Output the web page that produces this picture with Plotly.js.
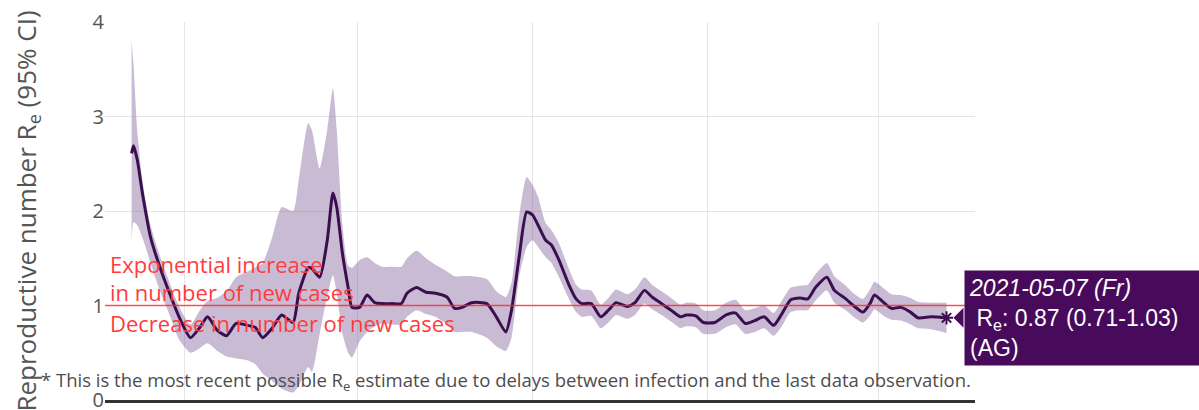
<!DOCTYPE html>
<html>
<head>
<meta charset="utf-8">
<script src="https://cdn.plot.ly/plotly-3.0.1.min.js"></script>
<style>html,body{margin:0;padding:0;background:#fff}#chart{width:1199px;height:410px}</style>
</head>
<body>
<div id="chart"></div>
<script>
// Daily Re estimate (AG)
const dates = [
  '2020-03-04','2020-03-05','2020-03-07','2020-03-10','2020-03-14','2020-03-19','2020-03-24','2020-03-29',
  '2020-04-04','2020-04-09','2020-04-13','2020-04-18','2020-04-23','2020-04-28','2020-05-04','2020-05-08',
  '2020-05-12','2020-05-17','2020-05-22','2020-05-28','2020-05-31','2020-06-05','2020-06-07','2020-06-11',
  '2020-06-15','2020-06-18','2020-06-20','2020-06-23','2020-06-26','2020-06-28','2020-07-02','2020-07-06',
  '2020-07-10','2020-07-14','2020-07-19','2020-07-24','2020-07-27','2020-08-01','2020-08-06','2020-08-11',
  '2020-08-17','2020-08-21','2020-08-25','2020-08-30','2020-09-07','2020-09-12','2020-09-17','2020-09-20',
  '2020-09-24','2020-09-28','2020-10-01','2020-10-04','2020-10-08','2020-10-11','2020-10-15','2020-10-20',
  '2020-10-24','2020-10-27','2020-11-01','2020-11-06','2020-11-10','2020-11-14','2020-11-20','2020-11-24',
  '2020-11-29','2020-12-03','2020-12-08','2020-12-13','2020-12-18','2020-12-21','2020-12-26','2020-12-30',
  '2021-01-05','2021-01-11','2021-01-16','2021-01-21','2021-01-26','2021-01-31','2021-02-05','2021-02-09',
  '2021-02-14','2021-02-19','2021-02-23','2021-02-27','2021-03-05','2021-03-09','2021-03-15','2021-03-19',
  '2021-03-24','2021-03-28','2021-03-30','2021-04-04','2021-04-08','2021-04-13','2021-04-18','2021-04-22',
  '2021-04-29','2021-05-07'
];
const re = [
  2.61,2.69,2.54,2.15,1.72,1.40,1.13,0.88,
  0.66,0.77,0.88,0.74,0.68,0.81,0.79,0.77,
  0.66,0.76,0.90,0.82,1.13,1.40,1.39,1.30,
  1.69,2.19,2.04,1.55,1.19,0.98,0.98,1.11,
  1.03,1.02,1.02,1.02,1.13,1.19,1.14,1.13,
  1.09,0.97,0.98,1.03,1.02,0.88,0.72,0.95,
  1.51,1.99,1.96,1.85,1.69,1.64,1.48,1.23,
  1.07,1.02,1.02,0.88,0.95,1.03,0.99,1.03,
  1.16,1.09,1.02,0.95,0.88,0.90,0.89,0.82,
  0.82,0.90,0.92,0.81,0.84,0.88,0.79,0.90,
  1.06,1.08,1.07,1.19,1.30,1.16,1.07,1.00,
  0.93,1.03,1.11,1.03,0.97,0.98,0.93,0.87,
  0.88,0.87
];
const lo = [
  1.66,1.88,1.85,1.70,1.45,1.15,0.90,0.64,
  0.50,0.55,0.60,0.52,0.46,0.44,0.42,0.38,
  0.28,0.20,0.12,0.08,0.15,0.35,0.30,0.70,
  1.10,1.32,1.13,0.70,0.50,0.45,0.62,0.72,
  0.78,0.81,0.80,0.80,0.88,0.95,0.91,0.88,
  0.80,0.72,0.72,0.72,0.66,0.57,0.52,0.66,
  1.30,1.62,1.69,1.62,1.51,1.45,1.30,1.08,
  0.93,0.88,0.89,0.76,0.82,0.90,0.86,0.90,
  1.02,0.96,0.90,0.83,0.76,0.78,0.77,0.70,
  0.70,0.77,0.80,0.70,0.72,0.76,0.68,0.77,
  0.93,0.95,0.95,1.05,1.16,1.03,0.95,0.88,
  0.82,0.90,0.96,0.89,0.85,0.84,0.80,0.76,
  0.75,0.71
];
const hi = [
  3.81,3.55,2.85,2.28,1.85,1.52,1.24,0.99,
  0.80,0.95,1.05,1.08,1.15,1.30,1.36,1.40,
  1.45,1.72,2.04,2.00,2.33,2.93,2.85,2.45,
  2.86,3.30,2.86,1.85,1.42,1.40,1.48,1.51,
  1.45,1.41,1.41,1.41,1.50,1.58,1.50,1.43,
  1.36,1.31,1.31,1.31,1.28,1.15,1.09,1.24,
  1.94,2.36,2.28,2.15,1.87,1.80,1.66,1.40,
  1.22,1.17,1.16,1.01,1.08,1.17,1.12,1.17,
  1.30,1.22,1.15,1.08,1.01,1.03,1.02,0.95,
  0.95,1.03,1.06,0.95,0.97,1.00,0.92,1.04,
  1.19,1.21,1.22,1.33,1.45,1.31,1.21,1.13,
  1.07,1.18,1.25,1.18,1.12,1.11,1.08,1.04,
  1.03,1.03
];
const yTicks = [0, 1, 2, 3, 4];
const lastLabel = '2021-05-07 (Fr)';
const region = 'AG';

const n = dates.length - 1;
const lineColor = '#3b0f4f';
const smooth = 0.6;
const traces = [
  {x: dates, y: hi, type: 'scatter', mode: 'lines', line: {width: 0, color: 'rgba(0,0,0,0)', shape: 'spline', smoothing: smooth}, hoverinfo: 'skip', showlegend: false},
  {x: dates, y: lo, type: 'scatter', mode: 'lines', fill: 'tonexty', fillcolor: 'rgba(110,70,140,0.37)', line: {width: 0, color: 'rgba(0,0,0,0)', shape: 'spline', smoothing: smooth}, hoverinfo: 'skip', showlegend: false},
  {x: dates, y: re, type: 'scatter', mode: 'lines', line: {color: lineColor, width: 3, shape: 'spline', smoothing: smooth}, showlegend: false},
  {x: [dates[n]], y: [re[n]], type: 'scatter', mode: 'markers', marker: {symbol: 'asterisk-open', size: 11, color: lineColor, line: {color: lineColor, width: 2}}, showlegend: false}
];

const redFont = {family: 'Open Sans, sans-serif', size: 22, color: '#ff3b3b'};
const layout = {
  width: 1199, height: 410,
  margin: {l: 105, r: 224, t: 22, b: 10},
  paper_bgcolor: '#fff', plot_bgcolor: '#fff',
  hovermode: false,
  showlegend: false,
  font: {family: 'Open Sans, sans-serif', color: '#555'},
  xaxis: {
    type: 'date', range: ['2020-02-19', '2021-05-22'],
    tick0: '2020-01-01', dtick: 'M3',
    showgrid: true, gridcolor: '#e6e6e6', gridwidth: 1,
    showticklabels: false, zeroline: false,
    showline: true, linecolor: '#333', linewidth: 3
  },
  yaxis: {
    range: [0, 4], tickvals: yTicks, ticktext: yTicks.map(String),
    showgrid: true, gridcolor: '#e6e6e6', gridwidth: 1,
    zeroline: false, showline: false,
    ticklabeloverflow: 'allow',
    tickfont: {family: 'Open Sans, sans-serif', size: 20, color: '#555'},
    title: {text: 'Reproductive number R<sub>e</sub> (95% CI)', font: {family: 'Open Sans, sans-serif', size: 26, color: '#555'}, standoff: 48},
    automargin: false
  },
  shapes: [
    {type: 'line', xref: 'paper', x0: 0, x1: 1, yref: 'y', y0: 1, y1: 1, line: {color: 'rgba(255,40,40,0.8)', width: 1.5}},
    {type: 'path', xref: 'x', xsizemode: 'pixel', xanchor: dates[n], yref: 'y', ysizemode: 'pixel', yanchor: re[n],
     path: 'M 7 0 L 17 10 L 17 -10 Z', fillcolor: '#480a5a', line: {width: 0}}
  ],
  annotations: [
    {xref: 'paper', x: 0.003, xanchor: 'left', yref: 'y', y: 1.44, yanchor: 'middle', text: 'Exponential increase', showarrow: false, font: redFont},
    {xref: 'paper', x: 0.003, xanchor: 'left', yref: 'y', y: 1.14, yanchor: 'middle', text: 'in number of new cases', showarrow: false, font: redFont},
    {xref: 'paper', x: 0.003, xanchor: 'left', yref: 'y', y: 0.82, yanchor: 'middle', text: 'Decrease in number of new cases', showarrow: false, font: redFont},
    {xref: 'paper', x: 0.461, xanchor: 'center', yref: 'y', y: 0.2, yanchor: 'middle',
     text: '* This is the most recent possible R<sub>e</sub> estimate due to delays between infection and the last data observation.',
     showarrow: false, font: {family: 'Open Sans, sans-serif', size: 18.5, color: '#4d4d4d'}},
    {xref: 'x', x: dates[n], xanchor: 'left', xshift: 17, yref: 'y', y: re[n], yanchor: 'middle',
     text: '<i>' + lastLabel + '</i><br> R<sub>e</sub>: ' + re[n].toFixed(2) + ' (' + lo[n].toFixed(2) + '-' + hi[n].toFixed(2) + ')<br>(' + region + ')',
     align: 'left', width: 226, bgcolor: '#480a5a', borderpad: 4, showarrow: false,
     font: {family: 'Liberation Sans, Arial, sans-serif', size: 23, color: '#ffffff'}}
  ]
};

Plotly.newPlot('chart', traces, layout, {displayModeBar: false, staticPlot: true});
</script>
</body>
</html>
